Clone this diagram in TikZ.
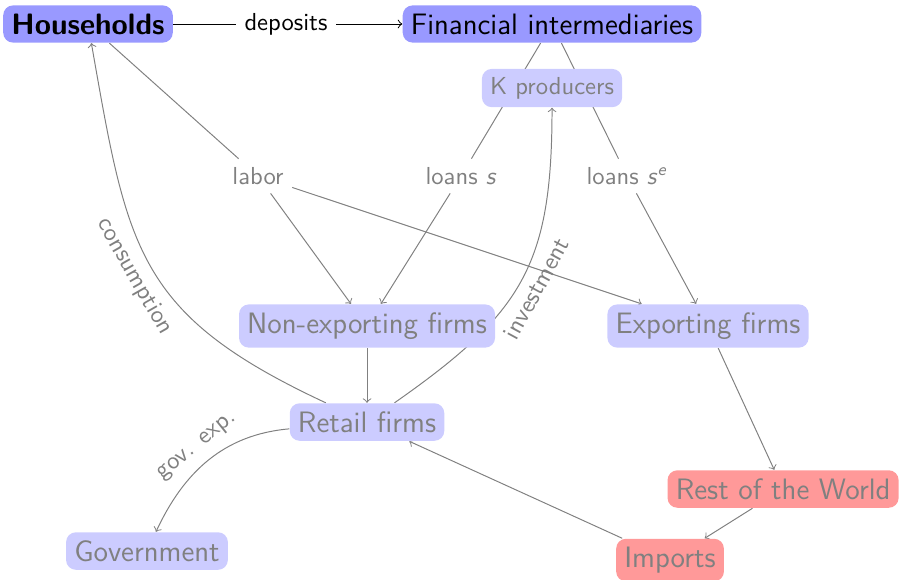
\documentclass[tikz,border=0pt]{standalone}
\usepackage{amsmath,amssymb}
\usepackage{tikz}
\usetikzlibrary{backgrounds}
\tikzset{agent/.style={rounded corners, fill=blue!20, text=black!50, font=\sffamily\large},
         mainagent/.style={agent, fill=blue!40, text=black},
         foreign/.style={agent, fill=red!40},
         flowlabel/.style={text=black!50, font=\sffamily},
         flowline/.style={->, draw=black!50}}

\begin{document}
\begin{tikzpicture}
        \useasboundingbox (0,0) rectangle (12.873,8.273);
        % top row
        \node[mainagent, font=\sffamily\large\bfseries] (hh) at (1.257,7.93) {Households};
        \node[mainagent] (fin) at (7.887,7.93) {Financial intermediaries};
        \node[font=\sffamily] (dep) at (4.086,7.93) {deposits};
        \node[agent, font=\sffamily] (kprod) at (7.887,7.015) {K producers};

        % labels
        \node[flowlabel] (labor) at (3.686,5.758) {labor};
        \node[flowlabel] (loans) at (6.587,5.758) {loans \textit{s}};
        \node[flowlabel] (loanse) at (8.959,5.758) {loans \textit{s}\textsuperscript{\textit{e}}};

        % firms
        \node[agent] (nonexp) at (5.244,3.615) {Non-exporting firms};
        \node[agent] (exp) at (10.116,3.615) {Exporting firms};
        \node[agent] (retail) at (5.244,2.243) {Retail firms};
        \node[agent] (gov) at (2.100,0.400) {Government};

        % foreign
        \node[foreign] (row) at (11.188,1.286) {Rest of the World};
        \node[foreign] (imp) at (9.573,0.271) {Imports};

        \begin{scope}[on background layer]
        \draw (hh) -- (dep);
        \draw[->] (dep) -- (fin);

        \draw[draw=black!50] (hh) -- (labor);
        \draw[flowline] (labor) -- (nonexp);
        \draw[flowline] (labor) -- (exp);

        \draw[draw=black!50] (fin) -- (loans);
        \draw[flowline] (loans) -- (nonexp);
        \draw[draw=black!50] (fin) -- (loanse);
        \draw[flowline] (loanse) -- (exp);

        \draw[flowline] (nonexp) -- (retail);
        \draw[flowline] (exp) -- (row);
        \draw[flowline] (row) -- (imp);
        \draw[flowline] (imp) -- (retail);

        \draw[flowline] (retail) to[out=155, in=-80, looseness=1.25] node[flowlabel, pos=0.5, sloped, below] (cons) {consumption} (hh);
        \draw[flowline] (retail) to[out=35, in=-90, looseness=1.2] node[flowlabel, pos=0.5, sloped, below] (inv) {investment} (kprod);
        \draw[flowline] (retail) to[out=185, in=65] node[flowlabel, pos=0.5, sloped, above] (govexp) {gov. exp.} (gov);
        \end{scope}
\end{tikzpicture}
\end{document}
